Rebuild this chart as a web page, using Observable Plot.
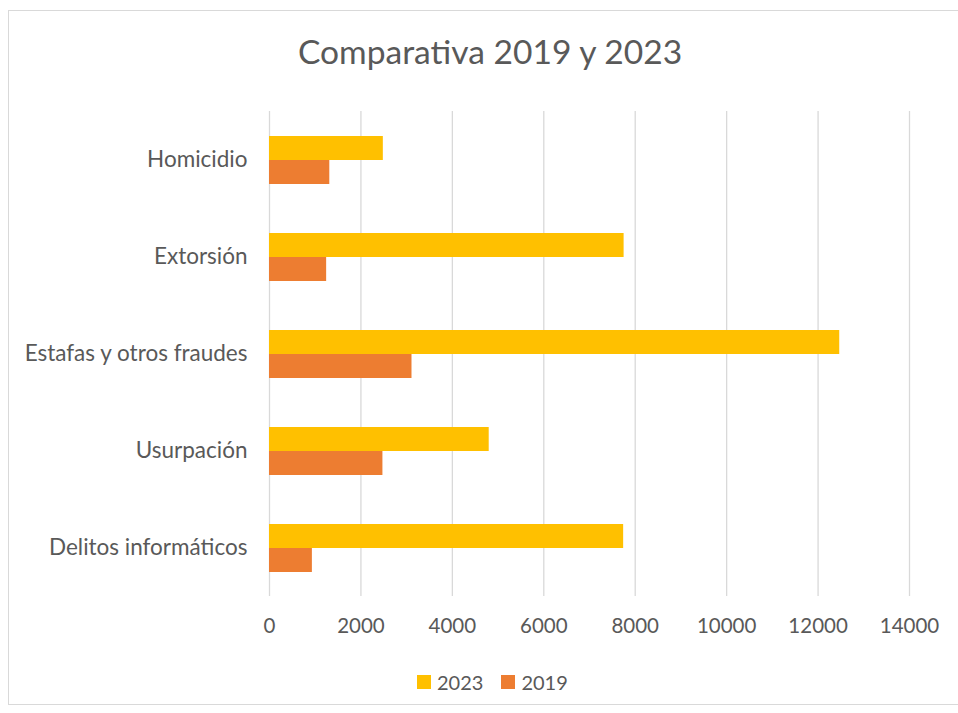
<!DOCTYPE html>
<html><head><meta charset="utf-8">
<script src="https://cdn.jsdelivr.net/npm/d3@7"></script>
<script src="https://cdn.jsdelivr.net/npm/@observablehq/plot@0.6"></script>
<style>
html,body{margin:0;padding:0;background:#fff;overflow:hidden;}
#wrap{position:relative;width:958px;height:713px;font-family:Lato,"Open Sans",sans-serif;color:#595959;}
#frame{position:absolute;left:8px;top:10px;width:990px;height:695px;border:1px solid #d9d9d9;box-sizing:border-box;}
#title{position:absolute;left:0;width:980px;top:31px;text-align:center;font-size:33.6px;color:#595959;}
#chart{position:absolute;left:0;top:0;}
#legend{position:absolute;top:670px;left:417px;font-size:20px;color:#595959;display:flex;align-items:center;white-space:nowrap;}
#legend .it{display:flex;align-items:center;margin-right:18px;}
#legend .sw{display:inline-block;width:14px;height:14px;margin-right:6px;}
</style></head>
<body><div id="wrap"><div id="frame"></div><div id="title">Comparativa 2019 y 2023</div><div id="chart"></div><div id="legend"></div></div>
<script>
const categories = ["Homicidio", "Extorsión", "Estafas y otros fraudes", "Usurpación", "Delitos informáticos"];
const series = ["2023", "2019"];
const values2023 = [2490, 7757, 12474, 4806, 7747];
const values2019 = [1319, 1250, 3117, 2481, 938];
const xTicks = [0, 2000, 4000, 6000, 8000, 10000, 12000, 14000];
const colors = ["#FFC000", "#ED7D31"];

const data = [];
categories.forEach((c, i) => {
  data.push({category: c, year: "2023", value: values2023[i]});
  data.push({category: c, year: "2019", value: values2019[i]});
});

const chart = Plot.plot({
  width: 958,
  height: 713,
  marginTop: 110,
  marginBottom: 116,
  marginLeft: 269,
  marginRight: 49,
  style: {fontFamily: "Lato, 'Open Sans', sans-serif", fontSize: "20.5px", color: "#595959", background: "transparent"},
  x: {domain: [0, 14000], axis: null},
  y: {domain: series, axis: null, paddingInner: 0, paddingOuter: 0.95},
  fy: {domain: categories, padding: 0, axis: null},
  color: {domain: series, range: colors},
  marks: [
    Plot.ruleX(xTicks, {x: d => d, stroke: "#d9d9d9", strokeWidth: 1.3}),
    Plot.barX(data, {fy: "category", y: "year", x: "value", fill: "year"}),
    Plot.axisFy({anchor: "left", tickSize: 0, tickPadding: 22, fontSize: 22.5, fill: "#595959", label: null}),
    Plot.axisX({ticks: xTicks, tickFormat: d => String(d), tickSize: 0, tickPadding: 22, fill: "#595959", facetAnchor: "bottom", label: null})
  ]
});
document.getElementById("chart").appendChild(chart);

const legend = document.getElementById("legend");
series.forEach((s, i) => {
  const it = document.createElement("span");
  it.className = "it";
  it.innerHTML = `<span class="sw" style="background:${colors[i]}"></span>${s}`;
  legend.appendChild(it);
});
</script></body></html>
